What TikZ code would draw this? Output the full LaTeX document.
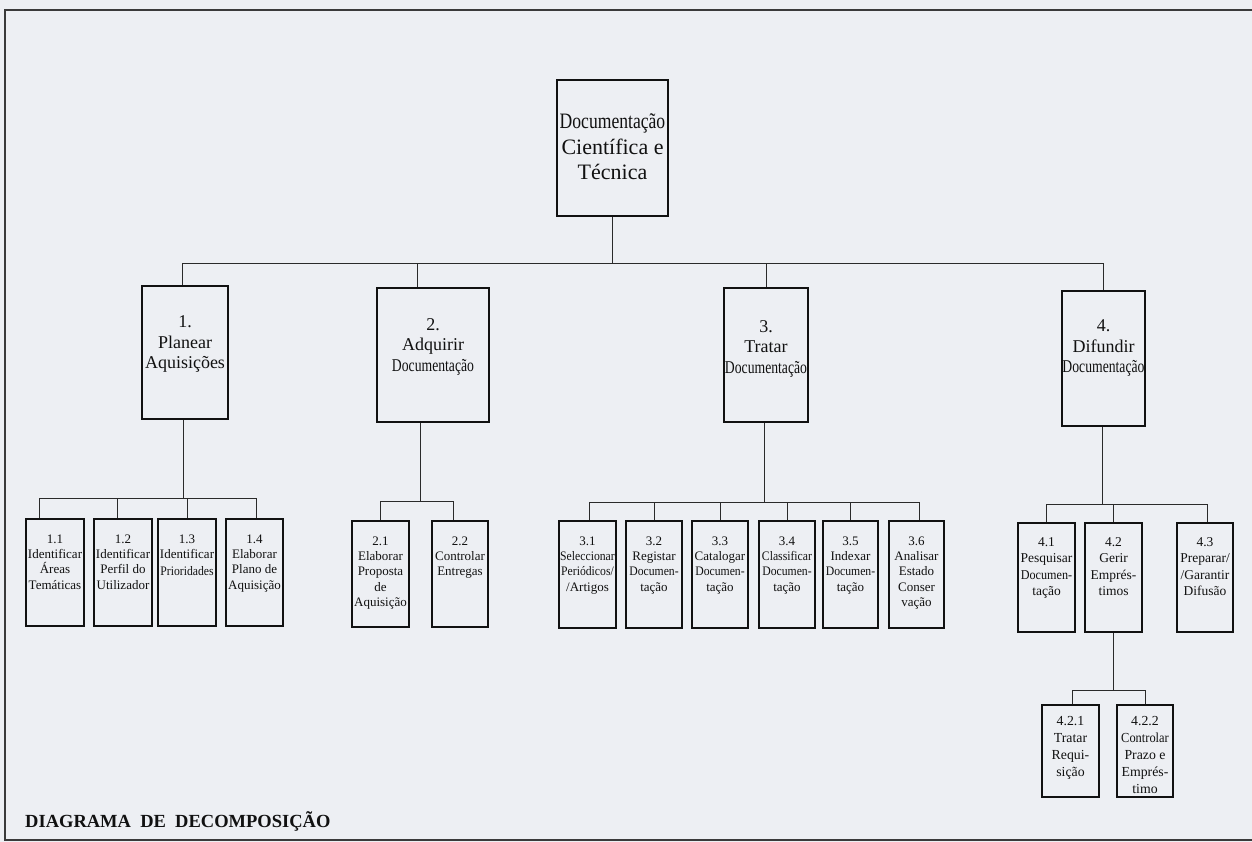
\documentclass[tikz,border=0pt]{standalone}
\usepackage{fontspec}
\setmainfont{Liberation Serif}
\newfontfamily\narrowa{Liberation Serif}[FakeStretch=0.8]
\newfontfamily\narrowc{Liberation Serif}[FakeStretch=0.76]
\newfontfamily\narrowb{Liberation Serif}[FakeStretch=0.9]
\definecolor{bgcol}{HTML}{EDEFF3}
\definecolor{inkcol}{HTML}{111111}
\definecolor{wirecol}{HTML}{2A2A2A}
\definecolor{framecol}{HTML}{3A3A3A}
\tikzset{
  bigbox/.style={draw=inkcol, line width=2.2pt, inner sep=0pt},
  subbox/.style={draw=inkcol, line width=1.3pt, inner sep=0pt},
  wire/.style={draw=wirecol, line width=0.9pt},
  frameline/.style={draw=framecol, line width=1.8pt},
  lbl/.style={inner sep=0pt, align=center, anchor=north, text=inkcol},
  fA/.style={font=\fontsize{22}{25.5}\selectfont},
  fB/.style={font=\fontsize{18}{20.5}\selectfont},
  fC/.style={font=\fontsize{13}{15.3}\selectfont},
  fD/.style={font=\fontsize{13.5}{16.5}\selectfont},
  fE/.style={font=\fontsize{13.8}{17}\selectfont}
}
\begin{document}
\begin{tikzpicture}[x=1pt,y=-1pt]
\useasboundingbox (0,0) rectangle (1252,842);
\fill[bgcol] (0,0) rectangle (1252,842);
\draw[frameline] (1252,10) -- (5,10) -- (5,840) -- (1252,840);

% top
\node[bigbox, minimum width=111pt, minimum height=136pt] (top) at (612.5,148) {};
\node[lbl, fA, anchor=center] (ttop) at ([yshift=1pt]top.center) {{\narrowa Documentação}\\Científica e\\Técnica};

% level 1
\node[bigbox, minimum width=86pt, minimum height=133pt] (b1) at (185,352.5) {};
\node[bigbox, minimum width=112pt, minimum height=134pt] (b2) at (433,355) {};
\node[bigbox, minimum width=84pt, minimum height=134pt] (b3) at (766,355) {};
\node[bigbox, minimum width=83pt, minimum height=135pt] (b4) at (1103.5,358.5) {};
\node[lbl, fB] (t1) at ([yshift=-31pt]b1.north) {1.\\Planear\\Aquisições};
\node[lbl, fB] (t2) at ([yshift=-31pt]b2.north) {2.\\Adquirir\\{\narrowc Documentação}};
\node[lbl, fB] (t3) at ([yshift=-33pt]b3.north) {3.\\Tratar\\{\narrowc Documentação}};
\node[lbl, fB] (t4) at ([yshift=-30pt]b4.north) {4.\\Difundir\\{\narrowc Documentação}};

\coordinate (bar1) at (612.5,263);
\draw[wire] (top.south) -- (bar1);
\draw[wire] ([xshift=-3pt]b1.north) -- ([xshift=-3pt]b1.north |- bar1) -- (b4.north |- bar1) -- (b4.north);
\draw[wire] ([xshift=-16pt]b2.north) -- ([xshift=-16pt]b2.north |- bar1);
\draw[wire] (b3.north) -- (b3.north |- bar1);

% group 1
\node[subbox, minimum width=58pt, minimum height=107pt] (b11) at (55,572.5) {};
\node[subbox, minimum width=58pt, minimum height=107pt] (b12) at (123,572.5) {};
\node[subbox, minimum width=58pt, minimum height=107pt] (b13) at (187,572.5) {};
\node[subbox, minimum width=57pt, minimum height=107pt] (b14) at (254.5,572.5) {};
\node[lbl, fC] (t11) at ([yshift=-16pt]b11.north) {1.1\\Identificar\\Áreas\\Temáticas};
\node[lbl, fC] (t12) at ([yshift=-16pt]b12.north) {1.2\\Identificar\\Perfil do\\Utilizador};
\node[lbl, fC] (t13) at ([yshift=-16pt]b13.north) {1.3\\Identificar\\[1.5pt]{\narrowb Prioridades}};
\node[lbl, fC] (t14) at ([yshift=-16pt]b14.north) {1.4\\Elaborar\\Plano de\\Aquisição};
\coordinate (g1) at (183,498);
\draw[wire] ([xshift=-2pt]b1.south) -- (g1);
\draw[wire] ([xshift=-16pt]b11.north) -- ([xshift=-16pt]b11.north |- g1) -- ([xshift=1.5pt]b14.north |- g1) -- ([xshift=1.5pt]b14.north);
\draw[wire] ([xshift=-6pt]b12.north) -- ([xshift=-6pt]b12.north |- g1);
\draw[wire] (b13.north) -- (b13.north |- g1);

% group 2
\node[subbox, minimum width=57pt, minimum height=106pt] (b21) at (380.5,574) {};
\node[subbox, minimum width=56pt, minimum height=106pt] (b22) at (460,574) {};
\node[lbl, fC] (t21) at ([yshift=-16pt]b21.north) {2.1\\Elaborar\\Proposta\\de\\Aquisição};
\node[lbl, fC] (t22) at ([yshift=-16pt]b22.north) {2.2\\Controlar\\Entregas};
\coordinate (g2) at (420,501);
\draw[wire] ([xshift=-13pt]b2.south) -- (g2);
\draw[wire] (b21.north) -- (b21.north |- g2) -- ([xshift=-7pt]b22.north |- g2) -- ([xshift=-7pt]b22.north);

% group 3
\node[subbox, minimum width=57pt, minimum height=107pt] (b31) at (587.5,574.5) {};
\node[subbox, minimum width=56pt, minimum height=107pt] (b32) at (654,574.5) {};
\node[subbox, minimum width=56pt, minimum height=107pt] (b33) at (720,574.5) {};
\node[subbox, minimum width=56pt, minimum height=107pt] (b34) at (787,574.5) {};
\node[subbox, minimum width=55pt, minimum height=107pt] (b35) at (850.5,574.5) {};
\node[subbox, minimum width=55pt, minimum height=107pt] (b36) at (916.5,574.5) {};
\node[lbl, fC] (t31) at ([yshift=-16pt]b31.north) {3.1\\{\narrowb Seleccionar}\\{\narrowb Periódicos/}\\/Artigos};
\node[lbl, fC] (t32) at ([yshift=-16pt]b32.north) {3.2\\Registar\\{\narrowb Documen-}\\tação};
\node[lbl, fC] (t33) at ([yshift=-16pt]b33.north) {3.3\\Catalogar\\{\narrowb Documen-}\\tação};
\node[lbl, fC] (t34) at ([yshift=-16pt]b34.north) {3.4\\{\narrowb Classificar}\\{\narrowb Documen-}\\tação};
\node[lbl, fC] (t35) at ([yshift=-16pt]b35.north) {3.5\\Indexar\\{\narrowb Documen-}\\tação};
\node[lbl, fC] (t36) at ([yshift=-16pt]b36.north) {3.6\\Analisar\\Estado\\Conser\\vação};
\coordinate (g3) at (764,502);
\draw[wire] ([xshift=-2pt]b3.south) -- (g3);
\draw[wire] ([xshift=2pt]b31.north) -- ([xshift=2pt]b31.north |- g3) -- ([xshift=3pt]b36.north |- g3) -- ([xshift=3pt]b36.north);
\draw[wire] (b32.north) -- (b32.north |- g3);
\draw[wire] (b33.north) -- (b33.north |- g3);
\draw[wire] (b34.north) -- (b34.north |- g3);
\draw[wire] (b35.north) -- (b35.north |- g3);

% group 4
\node[subbox, minimum width=57pt, minimum height=109pt] (b41) at (1046.5,577.5) {};
\node[subbox, minimum width=57pt, minimum height=109pt] (b42) at (1113.5,577.5) {};
\node[subbox, minimum width=56pt, minimum height=109pt] (b43) at (1205,577.5) {};
\node[lbl, fD] (t41) at ([yshift=-15pt]b41.north) {4.1\\Pesquisar\\{\narrowb Documen-}\\tação};
\node[lbl, fD] (t42) at ([yshift=-15pt]b42.north) {4.2\\Gerir\\Emprés-\\timos};
\node[lbl, fD] (t43) at ([yshift=-15pt]b43.north) {4.3\\Preparar/\\/Garantir\\Difusão};
\coordinate (g4) at (1102,504);
\draw[wire] ([xshift=-1.5pt]b4.south) -- (g4);
\draw[wire] (b41.north) -- (b41.north |- g4) -- ([xshift=2pt]b43.north |- g4) -- ([xshift=2pt]b43.north);
\draw[wire] (b42.north) -- (b42.north |- g4);

% group 4.2
\node[subbox, minimum width=57pt, minimum height=92pt] (b421) at (1070.5,751) {};
\node[subbox, minimum width=56pt, minimum height=92pt] (b422) at (1145,751) {};
\node[lbl, fE] (t421) at ([yshift=-12pt]b421.north) {4.2.1\\Tratar\\Requi-\\sição};
\node[lbl, fE] (t422) at ([yshift=-12pt]b422.north) {4.2.2\\{\narrowb Controlar}\\Prazo e\\Emprés-\\timo};
\coordinate (g42) at (1113.5,690);
\draw[wire] (b42.south) -- (g42);
\draw[wire] ([xshift=1.5pt]b421.north) -- ([xshift=1.5pt]b421.north |- g42) -- (b422.north |- g42) -- (b422.north);

% title
\node[anchor=base west, inner sep=0pt, text=inkcol, font=\fontsize{18.5}{22}\selectfont\bfseries] (title) at (25,827) {DIAGRAMA\ \ DE\ \ DECOMPOSIÇÃO};
\end{tikzpicture}
\end{document}
